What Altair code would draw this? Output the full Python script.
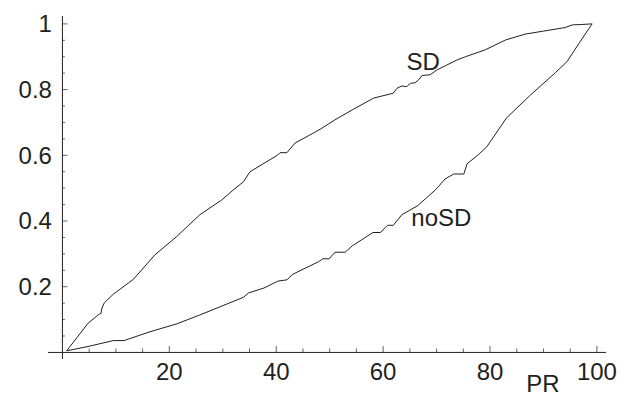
import altair as alt
import pandas as pd

INK = "#231f20"
FONT = "Liberation Sans"

# ---- data ----
sd_x = [0.8, 4.8, 6.9, 7.2, 7.4, 7.8, 9.5, 13.3, 17.3, 21.4, 25.7, 29.8, 32.0, 33.9, 35.1,
        40.3, 40.7, 42.0, 43.5, 48.2, 51.0, 54.2, 58.2, 61.9, 62.6, 63.5, 64.4, 65.1, 66.0,
        66.6, 67.3, 68.8, 70.1, 73.8, 75.4, 79.1, 82.9, 86.6, 90.0, 94.1, 95.4, 97.0, 99.1]
sd_y = [0.005, 0.089, 0.117, 0.118, 0.135, 0.150, 0.177, 0.223, 0.297, 0.353, 0.419, 0.464,
        0.495, 0.520, 0.550, 0.601, 0.608, 0.608, 0.637, 0.679, 0.708, 0.738, 0.774, 0.789,
        0.804, 0.811, 0.809, 0.819, 0.821, 0.829, 0.843, 0.845, 0.860, 0.890, 0.900, 0.921,
        0.951, 0.969, 0.978, 0.989, 0.997, 0.998, 1.0]

nosd_x = [0.8, 4.8, 9.5, 11.5, 16.4, 21.4, 25.7, 33.9, 34.8, 37.7, 40.3, 42.0, 43.1, 47.9,
          48.7, 49.9, 51.0, 52.9, 54.2, 58.1, 59.5, 60.8, 61.9, 63.5, 66.5, 69.8, 71.6, 73.2,
          75.1, 75.7, 77.9, 79.4, 83.1, 87.4, 92.2, 94.4, 96.7, 99.1]
nosd_y = [0.005, 0.018, 0.036, 0.036, 0.063, 0.087, 0.114, 0.168, 0.181, 0.196, 0.217, 0.221,
          0.238, 0.276, 0.285, 0.285, 0.305, 0.305, 0.324, 0.365, 0.365, 0.387, 0.387, 0.419,
          0.447, 0.495, 0.528, 0.543, 0.543, 0.574, 0.603, 0.626, 0.714, 0.781, 0.851, 0.885,
          0.942, 1.0]

x_major = [20, 40, 60, 80, 100]
x_major_labels = ["20", "40", "60", "80", "100"]
x_minor = [5, 10, 15, 25, 30, 35, 45, 50, 55, 65, 70, 75, 85, 90, 95]
y_major = [0.2, 0.4, 0.6, 0.8, 1.0]
y_major_labels = ["0.2", "0.4", "0.6", "0.8", "1"]
y_minor = [0.05, 0.1, 0.15, 0.25, 0.3, 0.35, 0.45, 0.5, 0.55, 0.65, 0.7, 0.75, 0.85, 0.9, 0.95]

x_extent = [-2.7, 101.7]
y_extent = [-0.02, 1.024]

annot_text = ["SD", "noSD", "PR"]
annot_x = [67.5, 70.9, 89.9]
annot_y = [0.860, 0.384, -0.120]

# ---- tables ----
curves = pd.concat([
    pd.DataFrame({"x": sd_x, "y": sd_y, "series": "SD", "i": range(len(sd_x))}),
    pd.DataFrame({"x": nosd_x, "y": nosd_y, "series": "noSD", "i": range(len(nosd_x))}),
])
axes_df = pd.DataFrame({"x": [x_extent[0], 0], "x2": [x_extent[1], 0],
                        "y": [0, y_extent[0]], "y2": [0, y_extent[1]]})
xt_major = pd.DataFrame({"x": x_major, "y": 0, "t": x_major_labels})
xt_minor = pd.DataFrame({"x": x_minor, "y": 0})
yt_major = pd.DataFrame({"x": 0, "y": y_major, "t": y_major_labels})
yt_minor = pd.DataFrame({"x": 0, "y": y_minor})
annot = pd.DataFrame({"x": annot_x, "y": annot_y, "t": annot_text})

xs = alt.Scale(domain=x_extent, nice=False, zero=False)
ys = alt.Scale(domain=y_extent, nice=False, zero=False)
X = alt.X("x:Q", scale=xs, axis=None)
Y = alt.Y("y:Q", scale=ys, axis=None)

lines = alt.Chart(curves).mark_line(color=INK, strokeWidth=1).encode(
    x=X, y=Y, detail="series:N", order="i:Q")

axis_lines = alt.Chart(axes_df).mark_rule(color=INK, strokeWidth=1).encode(
    x=X, x2="x2:Q", y=Y, y2="y2:Q")

xmaj = alt.Chart(xt_major).mark_tick(orient="vertical", size=6.5, thickness=1,
                                     color=INK, yOffset=-3.25).encode(x=X, y=Y)
xmin = alt.Chart(xt_minor).mark_tick(orient="vertical", size=4, thickness=1,
                                     color=INK, yOffset=-2).encode(x=X, y=Y)
ymaj = alt.Chart(yt_major).mark_tick(orient="horizontal", size=5, thickness=1,
                                     color=INK, xOffset=2.5).encode(x=X, y=Y)
ymin = alt.Chart(yt_minor).mark_tick(orient="horizontal", size=2.5, thickness=1,
                                     color=INK, xOffset=1.25).encode(x=X, y=Y)

xlab = alt.Chart(xt_major).mark_text(align="center", baseline="alphabetic", dy=27.5,
                                     fontSize=24, font=FONT, color=INK).encode(
    x=X, y=Y, text="t:N")
ylab = alt.Chart(yt_major).mark_text(align="right", baseline="alphabetic", dx=-10.5, dy=8.3,
                                     fontSize=24, font=FONT, color=INK).encode(
    x=X, y=Y, text="t:N")
alab = alt.Chart(annot).mark_text(align="center", baseline="alphabetic",
                                  fontSize=24, font=FONT, color=INK).encode(
    x=X, y=Y, text="t:N")

chart = alt.layer(lines, axis_lines, xmin, xmaj, ymin, ymaj, xlab, ylab, alab).properties(
    width=558, height=343,
    autosize=alt.AutoSizeParams(type="none"),
    padding={"left": 40, "top": 8, "right": 22, "bottom": 35},
    background="white",
).configure_view(stroke=None)

chart.save("out.html", embed_options={"renderer": "svg", "actions": False})
